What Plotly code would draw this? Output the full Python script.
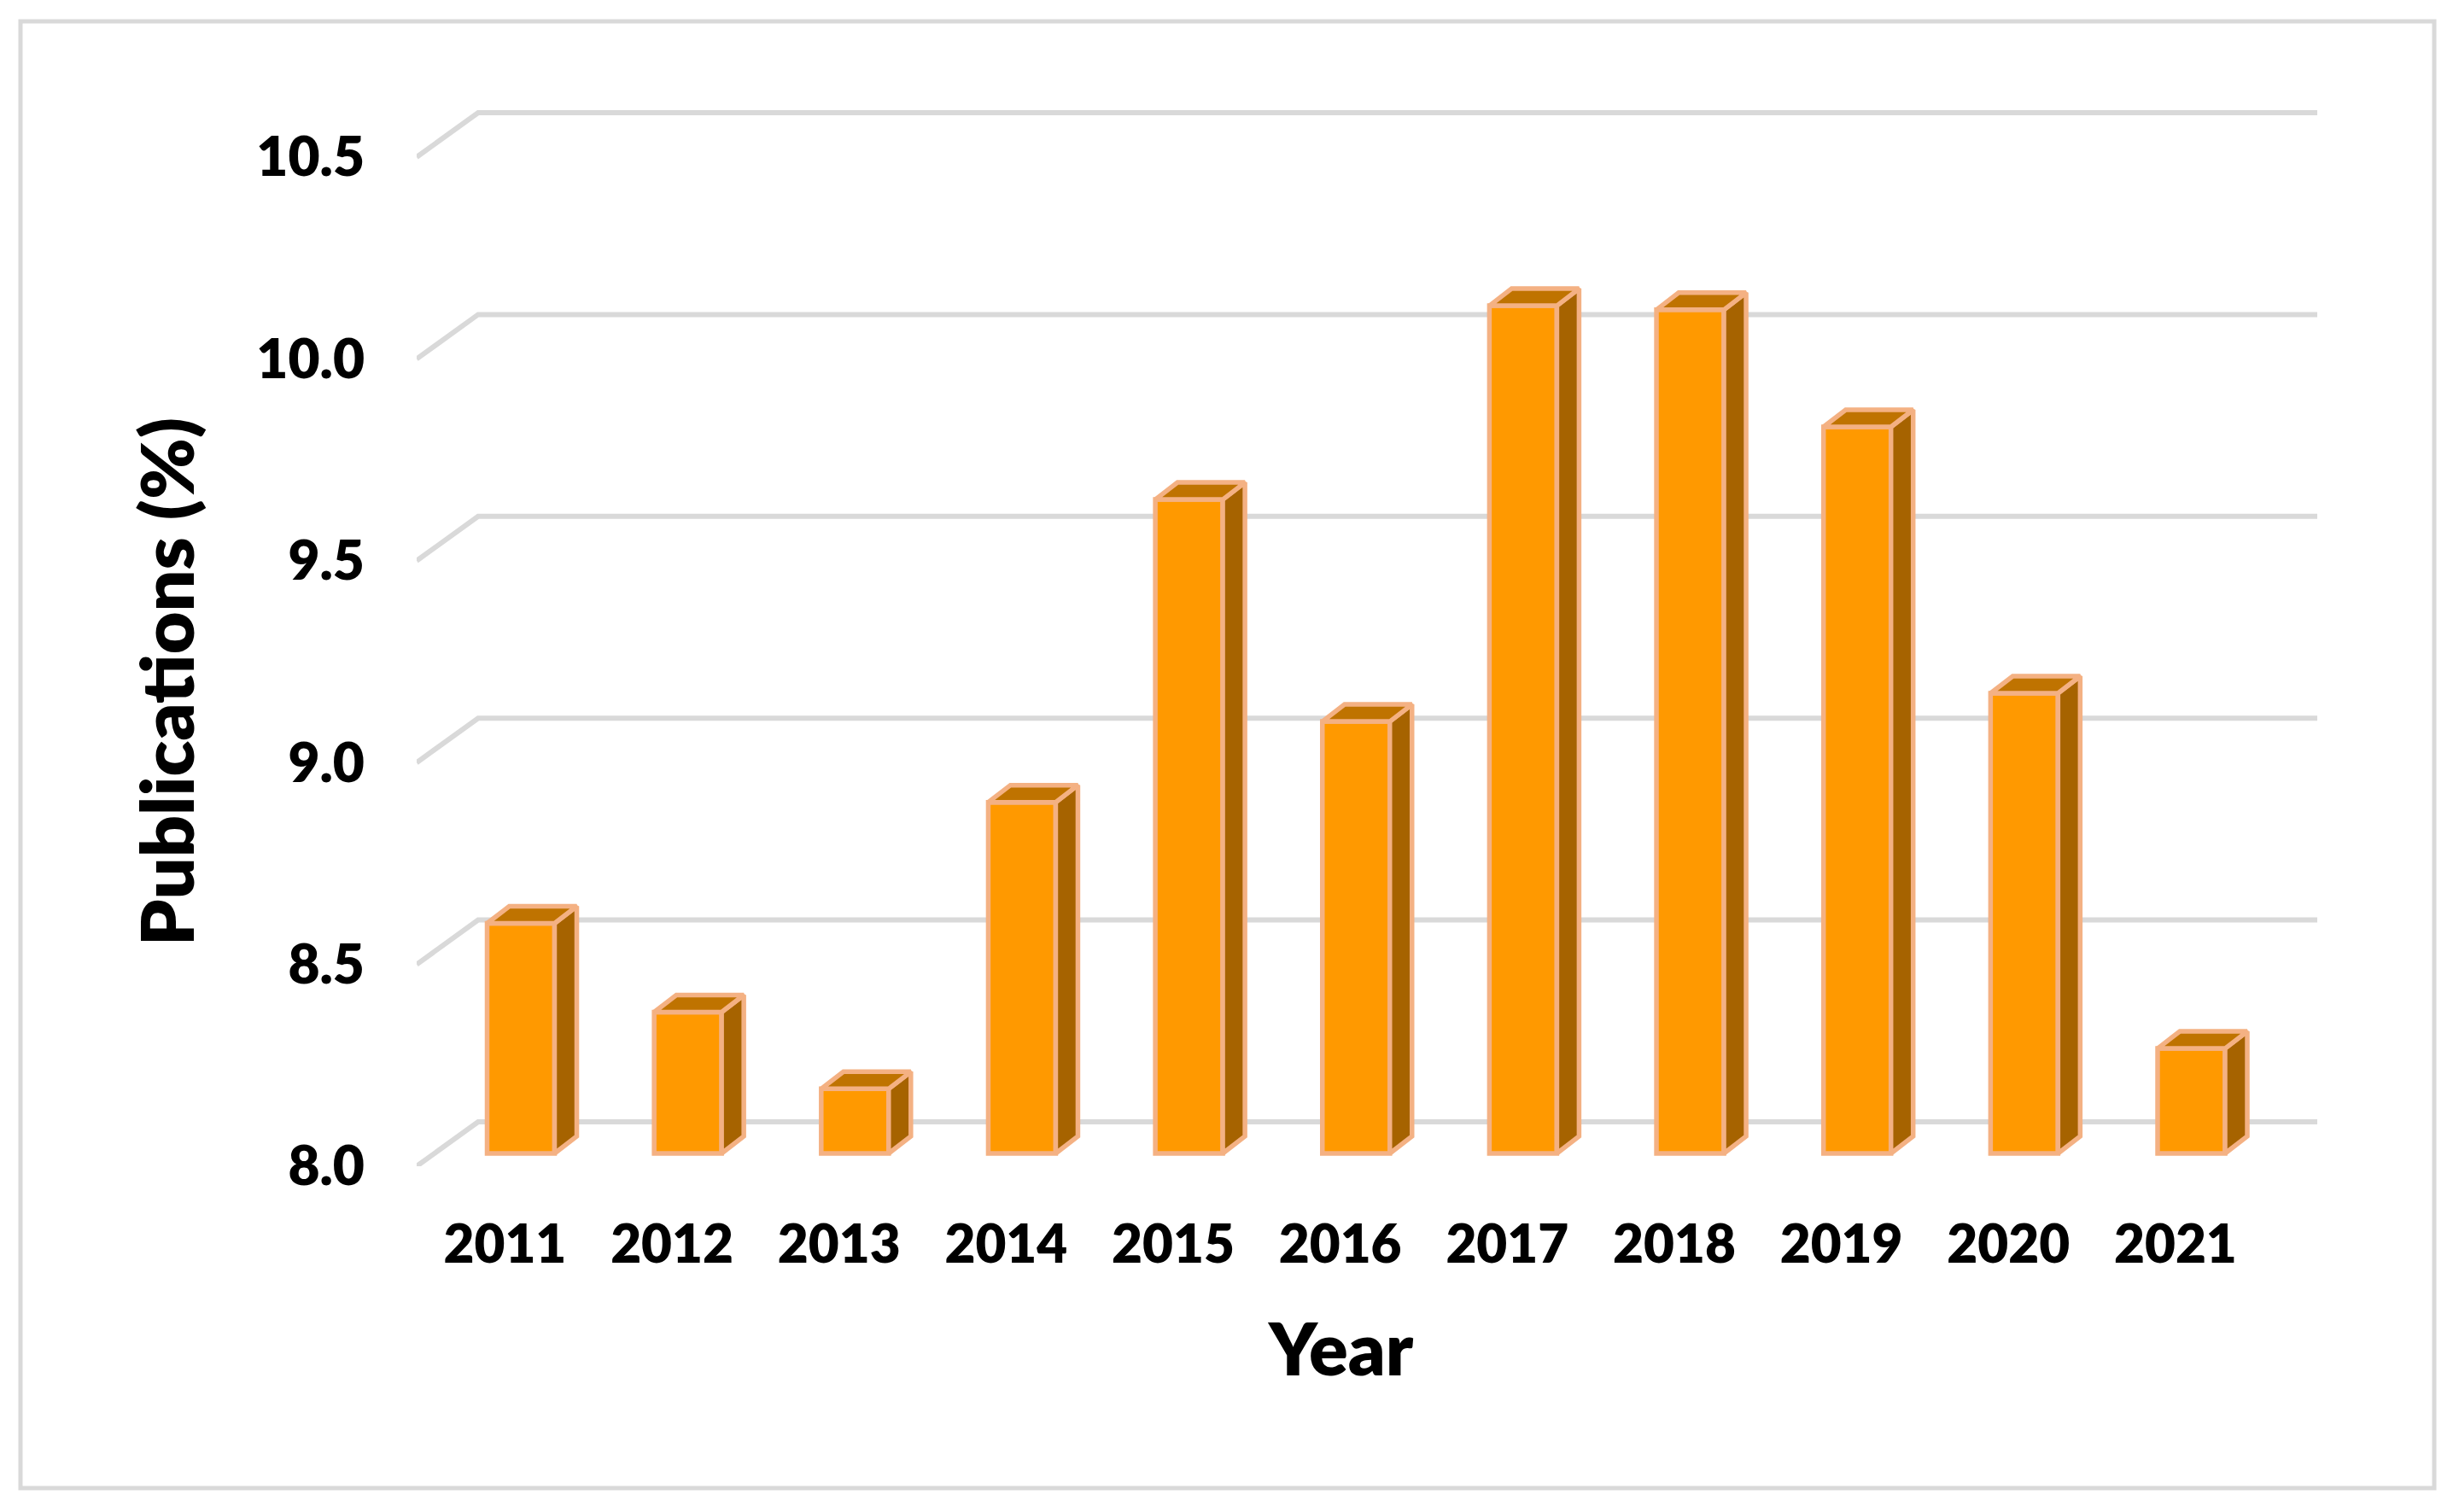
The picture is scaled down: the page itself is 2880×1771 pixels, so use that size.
import plotly.graph_objects as go

years = [2011, 2012, 2013, 2014, 2015, 2016, 2017, 2018, 2019, 2020, 2021]
publications = [8.57, 8.35, 8.16, 8.87, 9.62, 9.07, 10.10, 10.09, 9.80, 9.14, 8.26]
y_ticks = [8.0, 8.5, 9.0, 9.5, 10.0, 10.5]
y_tick_labels = ["8.0", "8.5", "9.0", "9.5", "10.0", "10.5"]

W, H = 2880, 1771
L, R, T, B = 488, 2714, 100, 1366      # plot area in page pixels
PX_PER_YEAR = 195.65
PX_PER_UNIT = 472.8
X0_PX = 610                            # centre of the first bar's front face

x_of = lambda px: years[0] + (px - X0_PX) / PX_PER_YEAR
y_of = lambda py: 8.0 + (B - py) / PX_PER_UNIT
xp = lambda px: (px - L) / (R - L)
yp = lambda py: (B - py) / (B - T)

BAR_W = 79 / PX_PER_YEAR
LIFT = 15 / PX_PER_UNIT
DX = 26 / PX_PER_YEAR
DY = 20 / PX_PER_UNIT
WALL_DY = 52 / PX_PER_UNIT
WALL_X = x_of(560)

STROKE = "#F4B183"
FRONT = "#FF9900"
SIDE = "#A66300"
TOP = "#BF7300"
GRID = "#D9D9D9"
FONT = "Lato"
EDGE = 5.5

fig = go.Figure()

fig.add_trace(go.Bar(
    x=years, y=[v - 8.0 for v in publications], base=8.0 + LIFT, width=BAR_W,
    marker=dict(color=FRONT, line=dict(color=STROKE, width=EDGE)),
    cliponaxis=False, showlegend=False,
))

for yr, v in zip(years, publications):
    xl, xr = yr - BAR_W / 2, yr + BAR_W / 2
    top, bot = v + LIFT, 8.0 + LIFT
    fig.add_trace(go.Scatter(
        x=[xr, xr + DX, xr + DX, xr, xr], y=[bot, bot + DY, top + DY, top, bot],
        mode="lines", fill="toself", fillcolor=SIDE,
        line=dict(color=STROKE, width=EDGE), cliponaxis=False, showlegend=False, hoverinfo="skip",
    ))
    fig.add_trace(go.Scatter(
        x=[xl, xr, xr + DX, xl + DX, xl], y=[top, top, top + DY, top + DY, top],
        mode="lines", fill="toself", fillcolor=TOP,
        line=dict(color=STROKE, width=EDGE), cliponaxis=False, showlegend=False, hoverinfo="skip",
    ))

shapes = []
for t in y_ticks:
    shapes.append(dict(
        type="path", xref="x", yref="y", layer="below",
        path=f"M {x_of(L)} {t} L {WALL_X} {t + WALL_DY} L {x_of(R)} {t + WALL_DY}",
        line=dict(color=GRID, width=6), fillcolor="rgba(0,0,0,0)",
    ))
shapes.append(dict(
    type="rect", xref="paper", yref="paper", layer="below",
    x0=xp(24), x1=xp(2851), y0=yp(1743), y1=yp(25),
    line=dict(color=GRID, width=5), fillcolor="white",
))

fig.update_layout(
    width=W, height=H, autosize=False,
    margin=dict(l=L, r=W - R, t=T, b=H - B, pad=0),
    paper_bgcolor="white", plot_bgcolor="rgba(0,0,0,0)",
    showlegend=False, shapes=shapes,
    font=dict(family=FONT, color="black"),
    xaxis=dict(
        range=[x_of(L), x_of(R)], showgrid=False, zeroline=False, showline=False,
        tickmode="array", tickvals=[yr - 0.095 for yr in years], ticktext=[str(yr) for yr in years],
        tickfont=dict(family=FONT, size=62, weight=800, color="black"),
        ticks="", ticklabelstandoff=50,
    ),
    yaxis=dict(
        range=[y_of(B), y_of(T)], showgrid=False, zeroline=False, showline=False,
        tickmode="array", tickvals=y_ticks, ticktext=y_tick_labels,
        tickfont=dict(family=FONT, size=64, weight=800, color="black"),
        ticks="", ticklabelstandoff=60,
    ),
    annotations=[
        dict(text="Year", xref="paper", yref="paper", x=xp(1570), y=yp(1578),
             showarrow=False, xanchor="center", yanchor="middle",
             font=dict(family=FONT, size=85, weight=800, color="black")),
        dict(text="Publications (%)", xref="paper", yref="paper", x=xp(193), y=yp(799),
             textangle=-90, showarrow=False, xanchor="center", yanchor="middle",
             font=dict(family=FONT, size=86, weight=800, color="black")),
    ],
)

fig.write_html("out.html", config={"displayModeBar": False},
               post_script="document.body.style.margin='0';")
